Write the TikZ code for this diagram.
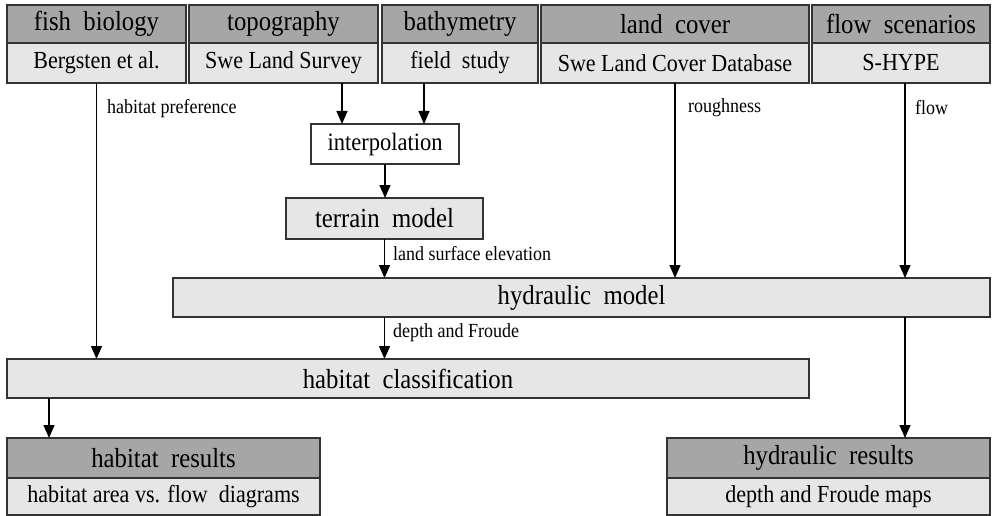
\documentclass[tikz,border=0pt]{standalone}
\usepackage{fontspec}
\setmainfont{Liberation Serif}[FakeStretch=0.9]
\usetikzlibrary{arrows.meta}

\definecolor{headgray}{RGB}{166,166,166}
\definecolor{subgray}{RGB}{230,230,230}

\begin{document}
\begin{tikzpicture}[x=1pt,y=-1pt,
  box/.style={draw=black!80,line width=1.8pt,inner sep=0pt,outer sep=0pt},
  head/.style={box,fill=headgray,minimum height=38pt,font=\fontsize{27.5}{27.5}\selectfont},
  sub/.style={box,fill=subgray,minimum height=40pt,font=\fontsize{24.5}{24.5}\selectfont},
  proc/.style={box,fill=subgray,font=\fontsize{27.5}{27.5}\selectfont},
  lbl/.style={anchor=west,inner sep=0pt,font=\fontsize{20}{20}\selectfont},
  arr/.style={line width=1.5pt,-{Triangle[length=13pt,width=11pt]}}]
  \useasboundingbox (0,0) rectangle (993,516);

  % Data sources
  \node[head,minimum width=179pt] (fish) at (96.5,24) {fish\ \ biology};
  \node[sub,minimum width=179pt] (fishsub) at (96.5,63) {Bergsten et al.};
  \node[head,minimum width=189pt] (topo) at (283.5,24) {topography};
  \node[sub,minimum width=189pt] (toposub) at (283.5,63) {Swe Land Survey};
  \node[head,minimum width=156pt] (bathy) at (460,24) {bathymetry};
  \node[sub,minimum width=156pt] (bathysub) at (460,63) {field\ \ study};
  \node[head,minimum width=268pt] (land) at (675,24) {land\ \ cover};
  \node[sub,minimum width=268pt] (landsub) at (675,63) {Swe Land Cover Database};
  \node[head,minimum width=178pt] (flow) at (901,24) {flow\ \ scenarios};
  \node[sub,minimum width=178pt] (flowsub) at (901,63) {S-HYPE};

  % Processing
  \node[box,fill=white,minimum width=148pt,minimum height=40pt,
    font=\fontsize{25}{25}\selectfont] (interp) at (385,144) {interpolation};
  \node[proc,minimum width=197pt,minimum height=41pt] (terrain) at (384.5,218.5) {terrain\ \ model};
  \node[proc,minimum width=817pt,minimum height=39pt] (hydro) at (581.5,297.5) {hydraulic\ \ model};
  \node[proc,minimum width=802pt,minimum height=39pt] (habclass) at (408,378.5) {habitat\ \ classification};

  % Results
  \node[head,minimum width=313pt,minimum height=40pt] (habres) at (163.5,458) {habitat\ \ results};
  \node[sub,minimum width=313pt,minimum height=37pt] (habressub) at (163.5,496.5) {habitat area vs. flow\ \ diagrams};
  \node[head,minimum width=323pt,minimum height=40pt] (hydres) at (828.5,458) {hydraulic\ \ results};
  \node[sub,minimum width=323pt,minimum height=37pt] (hydressub) at (828.5,496.5) {depth and Froude maps};

  % Arrows
  \draw[arr] (fishsub.south) -- (fishsub.south |- habclass.north);
  \draw[arr] ([xshift=31pt]interp.north west |- toposub.south) -- ([xshift=31pt]interp.north west);
  \draw[arr] ([xshift=-35pt]interp.north east |- bathysub.south) -- ([xshift=-35pt]interp.north east);
  \draw[arr] (interp.south) -- (interp.south |- terrain.north);
  \draw[arr] (terrain.south) -- (terrain.south |- hydro.north);
  \draw[arr] (landsub.south) -- (landsub.south |- hydro.north);
  \draw[arr] ([xshift=4pt]flowsub.south) -- ([xshift=4pt]flowsub.south |- hydro.north);
  \draw[arr] (terrain.south |- hydro.south) -- (terrain.south |- habclass.north);
  \draw[arr] ([xshift=42pt]habclass.south west) -- ([xshift=42pt]habclass.south west |- habres.north);
  \draw[arr] ([xshift=4pt]flowsub.south |- hydro.south) -- ([xshift=4pt]flowsub.south |- hydres.north);

  % Labels
  \node[lbl] (lpref) at (107,109) {habitat preference};
  \node[lbl] (lrough) at (688,108) {roughness};
  \node[lbl] (lflow) at (915,108) {flow};
  \node[lbl] (lelev) at (393,254) {land surface elevation};
  \node[lbl] (ldepth) at (393,333) {depth and Froude};
\end{tikzpicture}
\end{document}
